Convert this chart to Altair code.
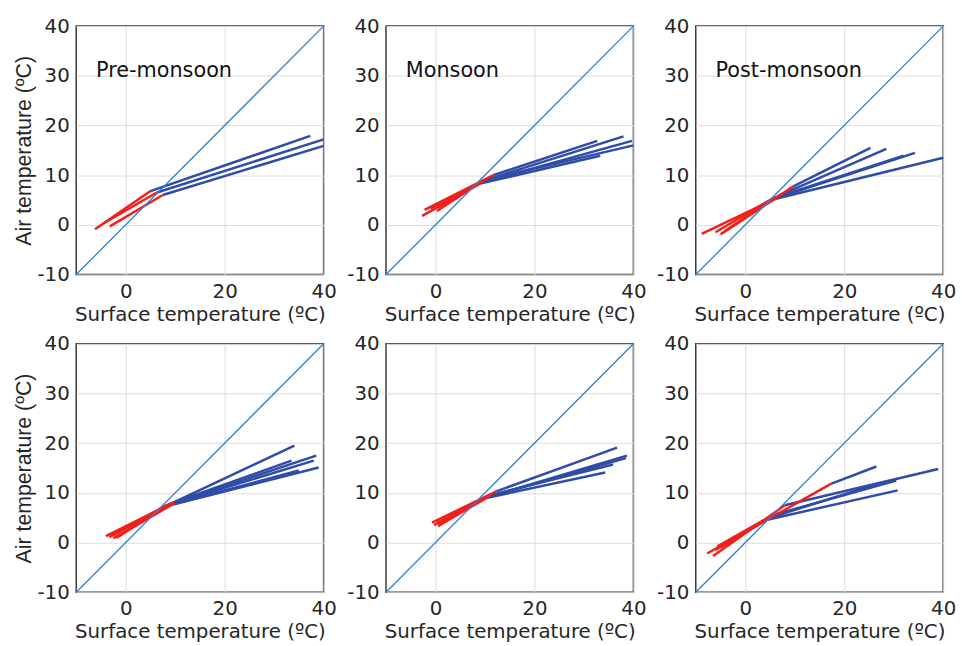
import altair as alt
import pandas as pd

# ---------------- data ----------------
PANEL_LABELS = ["Pre-monsoon", "Monsoon", "Post-monsoon", "", "", ""]
X_TICKS = [0, 20, 40]
Y_TICKS = [-10, 0, 10, 20, 30, 40]
ONE_TO_ONE = [-10, 40]

# each regression line: (Ts start, Ta start, Ts break, Ta break, Ts end, Ta end)
# cold segment (red) = start -> break, warm segment (blue) = break -> end
panel1_lines = [
    (-6.2, -0.9, 5.0, 6.8, 37.3, 17.9),
    (-4.5, 0.3, 6.3, 6.5, 40.0, 17.2),
    (-3.2, -0.3, 7.5, 6.0, 40.0, 15.9),
]
panel2_lines = [
    (-2.7, 1.8, 9.0, 8.3, 33.3, 13.9),
    (-2.2, 3.0, 11.7, 10.0, 32.7, 16.9),
    (0.3, 2.8, 9.5, 8.8, 38.0, 17.8),
    (-1.0, 3.3, 8.5, 8.3, 39.7, 16.9),
    (0.5, 3.5, 10.0, 9.0, 40.0, 16.0),
]
panel3_lines = [
    (-8.8, -1.8, 6.0, 5.2, 40.0, 13.5),
    (-6.0, -1.5, 5.0, 5.0, 34.3, 14.5),
    (-5.0, -1.9, 9.8, 7.8, 25.3, 15.5),
    (-4.5, -1.6, 7.0, 6.0, 28.5, 15.3),
    (-4.0, -1.2, 5.5, 5.3, 32.0, 13.9),
]
panel4_lines = [
    (-4.0, 1.3, 9.5, 8.0, 34.1, 19.5),
    (-3.3, 1.1, 8.5, 7.6, 33.5, 16.5),
    (-2.5, 0.9, 10.0, 8.0, 38.5, 17.5),
    (-1.7, 1.0, 7.5, 7.2, 38.0, 16.5),
    (-3.0, 1.3, 8.0, 7.3, 35.0, 14.5),
    (-2.0, 1.0, 9.0, 7.5, 39.0, 15.1),
]
panel5_lines = [
    (-0.7, 4.0, 12.3, 10.3, 36.7, 19.1),
    (-0.3, 3.5, 10.0, 9.0, 38.7, 17.5),
    (0.7, 3.6, 11.0, 9.5, 35.9, 15.7),
    (0.2, 3.9, 9.5, 8.8, 34.3, 14.1),
    (0.5, 3.3, 10.5, 9.1, 38.5, 17.0),
]
panel6_lines = [
    (-7.7, -2.2, 17.3, 11.8, 26.5, 15.3),
    (-6.5, -2.7, 8.0, 7.5, 39.0, 14.8),
    (-5.7, -0.8, 5.5, 5.5, 30.5, 12.5),
    (-5.0, -1.0, 5.0, 5.0, 27.3, 12.0),
    (-6.0, -1.5, 4.0, 4.5, 30.8, 10.5),
]
ALL_PANELS = [panel1_lines, panel2_lines, panel3_lines,
              panel4_lines, panel5_lines, panel6_lines]

# ---------------- styling ----------------
RED = "#f0201c"
BLUE = "#2f4ca6"
ONE_TO_ONE_COLOR = "#2f80d0"
TEXT_COLOR = "#262626"
FONT = "DejaVu Sans"
YFONT = "Liberation Sans"
W, H = 250, 251


def build_rows(lines):
    rows = []
    for li, (x0, y0, xb, yb, x1, y1) in enumerate(lines):
        rows += [
            {"line": f"c{li}", "seg": "cold", "k": 0, "ts": x0, "ta": y0},
            {"line": f"c{li}", "seg": "cold", "k": 1, "ts": xb, "ta": yb},
            {"line": f"w{li}", "seg": "warm", "k": 0, "ts": xb, "ta": yb},
            {"line": f"w{li}", "seg": "warm", "k": 1, "ts": x1, "ta": y1},
        ]
    return pd.DataFrame(rows)


one_df = pd.DataFrame({"ts": ONE_TO_ONE, "ta": ONE_TO_ONE})

xscale = alt.Scale(domain=[-10, 40], nice=False, zero=False)
yscale = alt.Scale(domain=[-10, 40], nice=False, zero=False)


def make_panel(i):
    left = (i % 3 == 0)
    xaxis = alt.Axis(values=X_TICKS, title="Surface temperature (ºC)",
                     labelExpr="'' + datum.value",
                     labelFontSize=20, titleFontSize=20, labelFont=FONT,
                     titleFont=FONT, titleFontWeight="normal", labelPadding=7,
                     titlePadding=3, grid=True, gridColor="#dcdcdc",
                     ticks=False, domain=False, labelFlush=False,
                     labelColor=TEXT_COLOR, titleColor=TEXT_COLOR)
    yaxis = alt.Axis(values=Y_TICKS, title="Air temperature (ºC)" if left else "",
                     labelExpr="'' + datum.value",
                     labelFontSize=20, titleFontSize=21.5, labelFont=FONT,
                     titleFont=YFONT, titleFontWeight="normal", labelPadding=7,
                     titlePadding=2, grid=True, gridColor="#dcdcdc",
                     ticks=False, domain=False, labelFlush=False,
                     labelColor=TEXT_COLOR, titleColor=TEXT_COLOR)
    x = alt.X("ts:Q", scale=xscale, axis=xaxis)
    y = alt.Y("ta:Q", scale=yscale, axis=yaxis)

    df = build_rows(ALL_PANELS[i])
    warm = alt.Chart(df[df.seg == "warm"]).mark_line(
        strokeWidth=2.5, color=BLUE, strokeCap="butt").encode(
        x=x, y=y, detail="line:N", order="k:O")
    cold = alt.Chart(df[df.seg == "cold"]).mark_line(
        strokeWidth=2.5, color=RED, strokeCap="butt").encode(
        x=x, y=y, detail="line:N", order="k:O")
    ident = alt.Chart(one_df).mark_line(
        strokeWidth=1.3, color=ONE_TO_ONE_COLOR).encode(x=x, y=y)
    layers = [warm, cold, ident]
    if PANEL_LABELS[i]:
        lab = alt.Chart(pd.DataFrame({"t": [PANEL_LABELS[i]], "ts": [-6.0], "ta": [31.0]})
                        ).mark_text(align="left", baseline="middle", fontSize=21,
                                    font=FONT, color="#111111").encode(
            x=alt.X("ts:Q", scale=xscale), y=alt.Y("ta:Q", scale=yscale), text="t:N")
        layers.append(lab)
    return alt.layer(*layers).properties(width=W, height=H)


panels = [make_panel(i) for i in range(6)]

chart = alt.concat(*panels, columns=3, spacing={"row": 70, "column": 63},
                   bounds="flush").properties(
    padding={"left": 12, "top": 12, "right": 5, "bottom": 5},
    background="white",
).configure_view(stroke="#3a3a3a", strokeWidth=1.5)

chart.save("out.html", embed_options={"renderer": "svg", "actions": False})
